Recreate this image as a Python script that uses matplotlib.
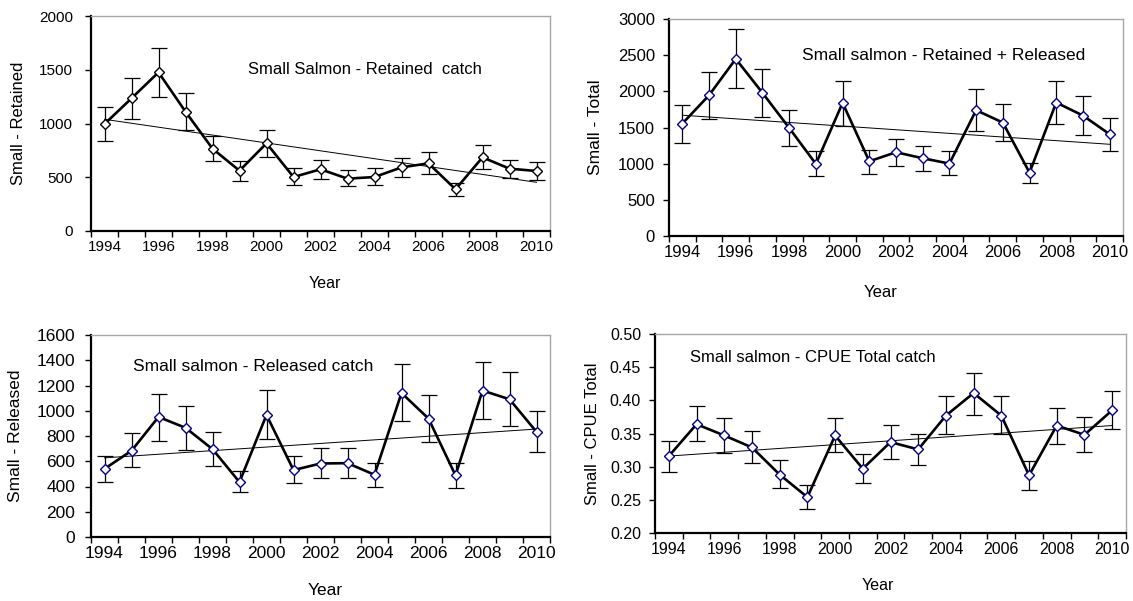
import matplotlib.pyplot as plt
import numpy as np

plt.rcParams['font.family'] = ['Liberation Sans', 'DejaVu Sans']

years = list(range(1994, 2011))
year_labels = [str(y) for y in years[::2]]

# small salmon, retained catch (estimate, lower and upper limits)
retained = [995, 1234, 1476, 1110, 766, 561, 816, 502, 574, 487, 502, 592, 629, 388, 685, 580, 558]
retained_lo = [837, 1045, 1243, 940, 651, 468, 691, 428, 484, 419, 428, 505, 533, 322, 577, 490, 471]
retained_hi = [1150, 1426, 1705, 1287, 887, 648, 943, 583, 657, 564, 583, 679, 735, 446, 797, 660, 645]
retained_trend = [1039, 453]

# retained + released
total = [1554, 1946, 2449, 1979, 1494, 996, 1840, 1033, 1158, 1075, 1001, 1739, 1568, 876, 1845, 1665, 1407]
total_lo = [1292, 1624, 2043, 1651, 1245, 826, 1522, 863, 969, 895, 839, 1448, 1310, 733, 1550, 1393, 1176]
total_hi = [1808, 2274, 2855, 2311, 1748, 1172, 2136, 1195, 1347, 1250, 1172, 2030, 1827, 1015, 2149, 1937, 1633]
total_trend = [1670, 1268]

# released catch
released = [540, 683, 951, 865, 696, 435, 967, 530, 582, 585, 493, 1141, 938, 488, 1160, 1091, 833]
released_lo = [432, 551, 762, 691, 559, 353, 780, 424, 469, 469, 398, 915, 754, 387, 933, 878, 673]
released_hi = [643, 822, 1136, 1036, 830, 519, 1162, 638, 701, 701, 590, 1368, 1128, 585, 1384, 1305, 999]
released_trend = [627, 855]

# CPUE, total catch
cpue = [0.316, 0.364, 0.347, 0.329, 0.288, 0.254, 0.347, 0.297, 0.337, 0.326, 0.377, 0.411, 0.377, 0.287, 0.362, 0.348, 0.385]
cpue_lo = [0.292, 0.338, 0.321, 0.305, 0.268, 0.236, 0.322, 0.275, 0.312, 0.302, 0.349, 0.378, 0.350, 0.265, 0.334, 0.322, 0.357]
cpue_hi = [0.339, 0.392, 0.373, 0.354, 0.310, 0.273, 0.373, 0.319, 0.363, 0.349, 0.406, 0.441, 0.406, 0.308, 0.388, 0.375, 0.414]
cpue_trend = [0.316, 0.362]

W, H = 1133, 601
fig = plt.figure(figsize=(W / 100, H / 100), dpi=100)


def px_axes(left, right, top, bottom):
    return fig.add_axes([left / W, 1 - bottom / H, (right - left) / W, (bottom - top) / H])


panels = [
    dict(box=(91, 550, 16, 231), y=retained, lo=retained_lo, hi=retained_hi, trend=retained_trend,
         ylim=(0, 2000), yticks=np.arange(0, 2001, 500), fmt='{:.0f}', ylabel='Small - Retained',
         title='Small Salmon - Retained  catch', tpos=(0.343, 0.75), tsize=12,
         mec='black', ylab=(-0.142, 0.5), xlab=(0.51, -0.209),
         tick_fs=11, ylab_fs=12, xlab_fs=11.5, ypad=9),
    dict(box=(669, 1123, 19, 236), y=total, lo=total_lo, hi=total_hi, trend=total_trend,
         ylim=(0, 3000), yticks=np.arange(0, 3001, 500), fmt='{:.0f}', ylabel='Small - Total',
         title='Small salmon - Retained + Released', tpos=(0.292, 0.831), tsize=12.5,
         mec='#00008b', ylab=(-0.145, 0.5), xlab=(0.465, -0.226),
         tick_fs=12, ylab_fs=12.5, xlab_fs=12, ypad=6),
    dict(box=(91, 550, 335, 537), y=released, lo=released_lo, hi=released_hi, trend=released_trend,
         ylim=(0, 1600), yticks=np.arange(0, 1601, 200), fmt='{:.0f}', ylabel='Small - Released',
         title='Small salmon - Released catch', tpos=(0.091, 0.843), tsize=12.5,
         mec='#00008b', ylab=(-0.148, 0.5), xlab=(0.51, -0.228),
         tick_fs=12.5, ylab_fs=12.5, xlab_fs=12.5, ypad=7.5),
    dict(box=(655, 1126, 334, 533), y=cpue, lo=cpue_lo, hi=cpue_hi, trend=cpue_trend,
         ylim=(0.2, 0.5), yticks=np.arange(0.20, 0.501, 0.05), fmt='{:.2f}', ylabel='Small - CPUE Total',
         title='Small salmon - CPUE Total catch', tpos=(0.0743, 0.881), tsize=12,
         mec='#00008b', ylab=(-0.117, 0.5), xlab=(0.473, -0.226),
         tick_fs=11.5, ylab_fs=12, xlab_fs=11.5, ypad=6),
]

x = np.arange(len(years))

for p in panels:
    ax = px_axes(*p['box'])
    y = np.array(p['y'])
    err = [y - np.array(p['lo']), np.array(p['hi']) - y]

    ax.errorbar(x, y, yerr=err, fmt='none', ecolor='black', elinewidth=0.9,
                capsize=5.5, capthick=0.9, zorder=2)
    ax.plot([x[0], x[-1]], p['trend'], color='black', lw=0.7, zorder=3)
    ax.plot(x, y, color='black', lw=1.9, marker='D', ms=5.2, mfc='white',
            mec=p['mec'], mew=1.0, zorder=4)

    ax.set_xlim(-0.5, len(years) - 0.5)
    ax.set_ylim(*p['ylim'])

    # category boundaries carry the tick marks, labels sit on every other year
    ax.set_xticks(np.arange(-0.5, len(years), 1.0))
    ax.set_xticklabels([])
    ax.set_xticks(x[::2], minor=True)
    ax.set_xticklabels(year_labels, minor=True)
    ax.tick_params(axis='x', which='major', direction='out', length=4, width=1.0)
    ax.tick_params(axis='x', which='minor', length=0, pad=6.5, labelsize=p['tick_fs'])

    ax.set_yticks(p['yticks'])
    ax.set_yticklabels([p['fmt'].format(v) for v in p['yticks']])
    ax.tick_params(axis='y', direction='out', length=4, width=1.0, pad=p['ypad'],
                   labelsize=p['tick_fs'])

    for side in ('left', 'bottom'):
        ax.spines[side].set_color('black')
        ax.spines[side].set_linewidth(1.6)
    for side in ('top', 'right'):
        ax.spines[side].set_color('#a6a6a6')
        ax.spines[side].set_linewidth(1.0)

    ax.set_ylabel(p['ylabel'], fontsize=p['ylab_fs'])
    ax.yaxis.set_label_coords(*p['ylab'])
    ax.set_xlabel('Year', fontsize=p['xlab_fs'])
    ax.xaxis.set_label_coords(*p['xlab'])

    ax.text(p['tpos'][0], p['tpos'][1], p['title'], transform=ax.transAxes,
            fontsize=p['tsize'], ha='left', va='center')

fig.savefig('out.png', dpi=100)
